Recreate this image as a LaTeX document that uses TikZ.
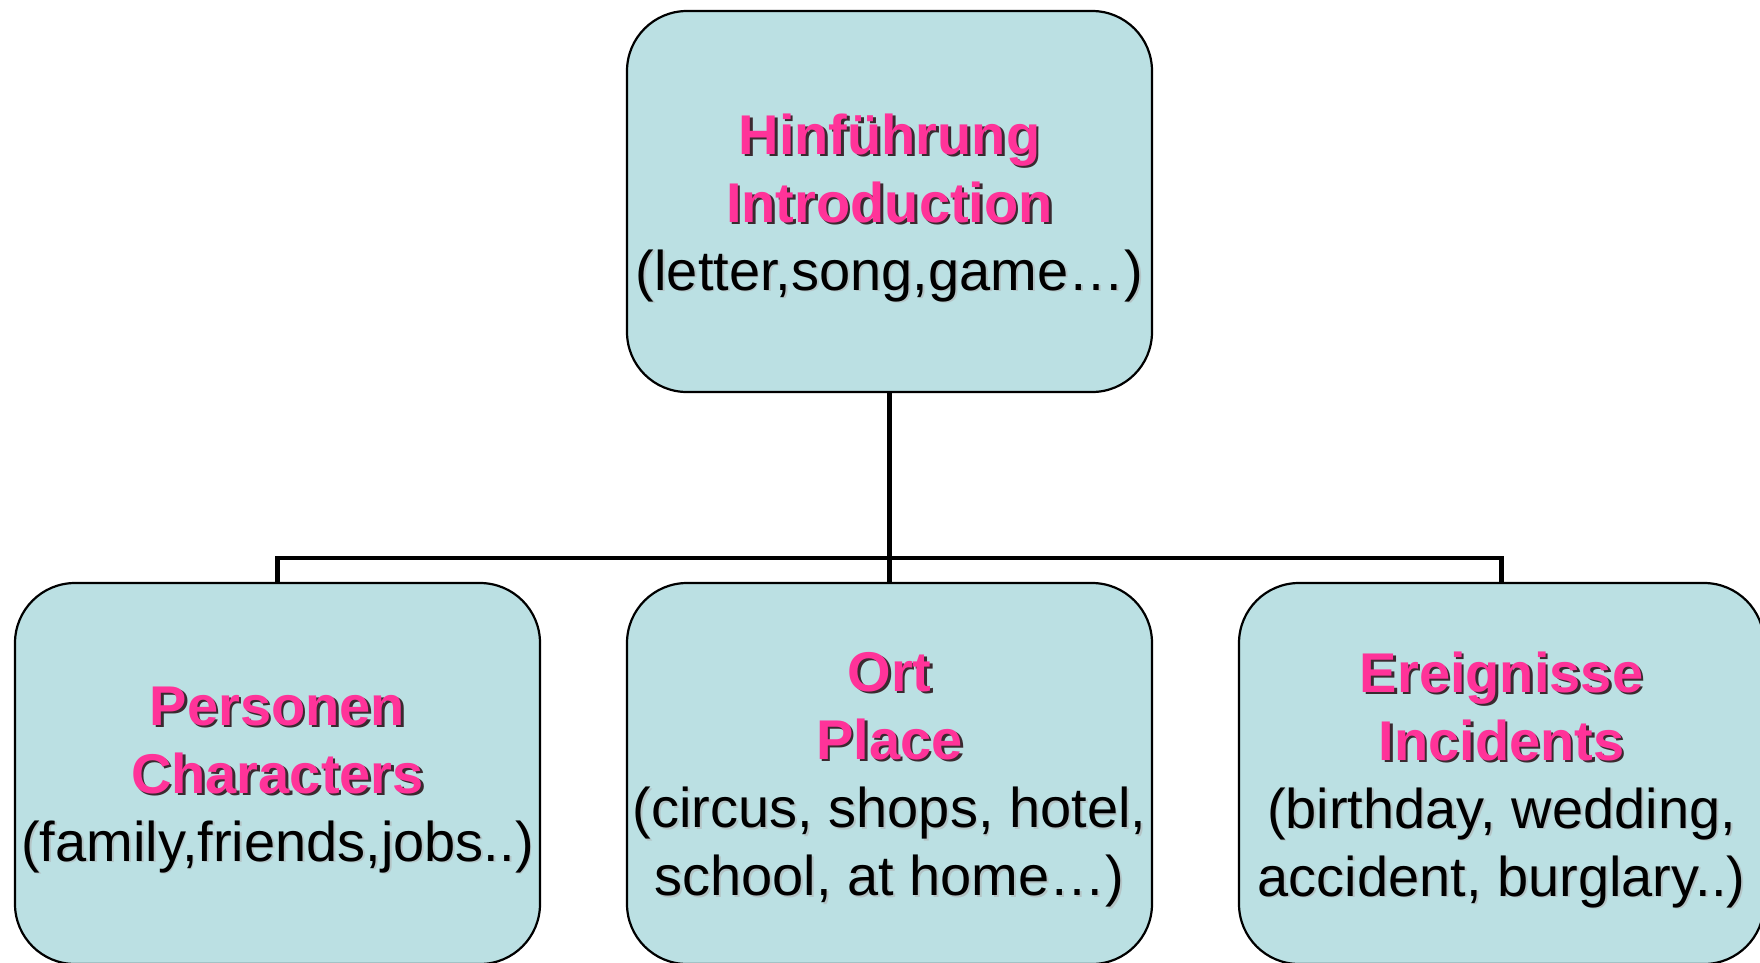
\documentclass[tikz,border=0pt]{standalone}
\usepackage{fontspec}
\setmainfont{Liberation Sans}
\definecolor{boxfill}{HTML}{BBE0E3}
\definecolor{pinktxt}{HTML}{FF3399}
\definecolor{pinkshadow}{HTML}{3A2A30}
\definecolor{blackshadow}{HTML}{B4C4C6}
\newcommand\shpink[1]{\leavevmode\rlap{\kern2.5pt\raisebox{-2.5pt}{\color{pinkshadow}\bfseries #1}}{\color{pinktxt}\bfseries #1}}
\newcommand\shblack[1]{\leavevmode\rlap{\kern1.8pt\raisebox{-1.8pt}{\color{blackshadow}#1}}{\color{black}#1}}
\tikzset{
  box/.style={draw=black, line width=2.2pt, fill=boxfill, rounded corners=60pt,
    minimum width=525pt, minimum height=381pt, inner sep=0pt},
  txt/.style={align=center, inner sep=0pt, font=\fontsize{56}{68}\selectfont},
  conn/.style={draw=black, line width=4.5pt}
}
\begin{document}
\begin{tikzpicture}[x=1pt,y=-1pt]
\useasboundingbox (0,0) rectangle (1760,962);
\clip (0,0) rectangle (1760,962);
\node[box] (top) at (889.5,201.5) {};
\node[box] (left) at (277.5,773.5) {};
\node[box] (mid) at (889.5,773.5) {};
\node[box] (right) at (1501.5,773.5) {};
\node[txt] (toptxt) at ([yshift=-7pt]top.center) {\shpink{Hinführung}\\\shpink{Introduction}\\\shblack{(letter,song,game…)}};
\node[txt] (lefttxt) at ([yshift=-7pt]left.center) {\shpink{Personen}\\\shpink{Characters}\\\shblack{(family,friends,jobs..)}};
\node[txt] (midtxt) at ([yshift=-7pt]mid.center) {\shpink{Ort}\\\shpink{Place}\\\shblack{(circus, shops, hotel,}\\\shblack{school, at home…)}};
\node[txt] (righttxt) at ([yshift=-7pt]right.center) {\shpink{Ereignisse}\\\shpink{Incidents}\\\shblack{(birthday, wedding,}\\\shblack{accident, burglary..)}};
\coordinate (bus) at (889.5,558);
\draw[conn] (top.south) -- (bus);
\draw[conn] (left.north) |- (bus) -| (right.north);
\draw[conn] (bus) -- (mid.north);
\end{tikzpicture}
\end{document}
